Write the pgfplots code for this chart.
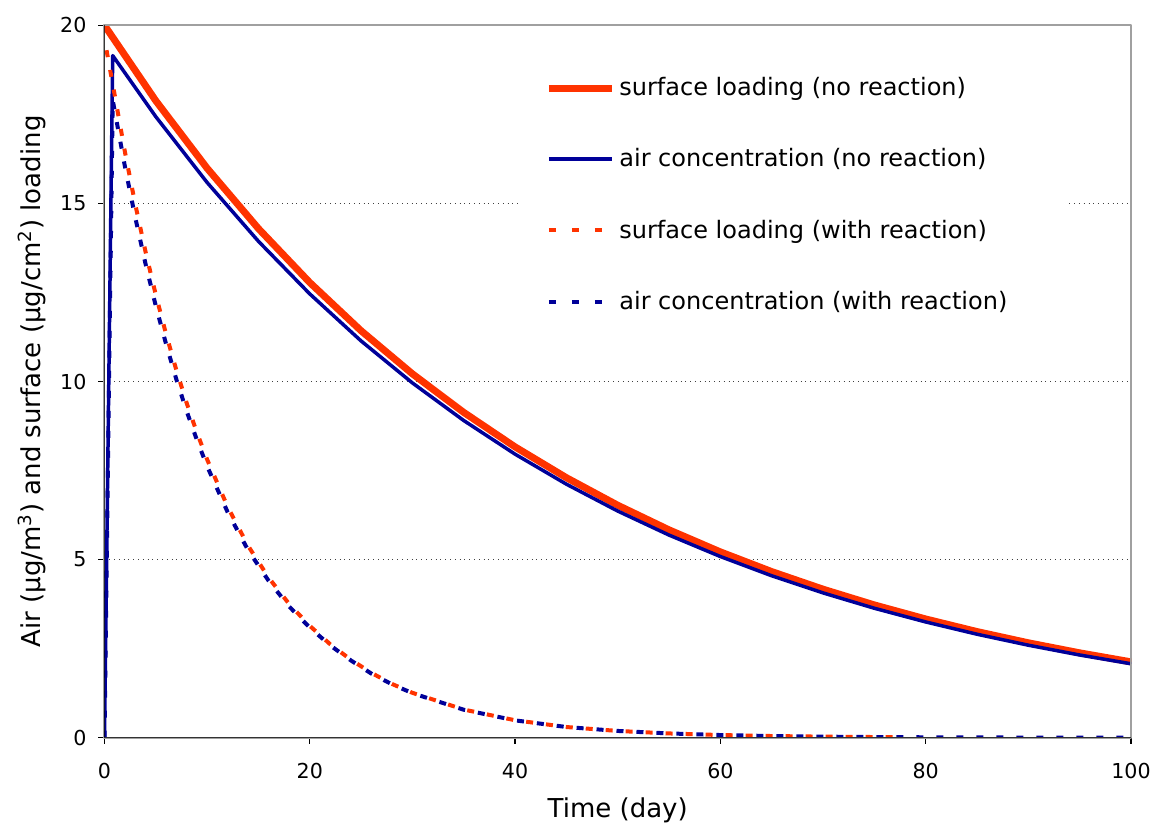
\documentclass[border=0pt]{standalone}
\usepackage{fontspec}
\setmainfont{DejaVu Sans}
\usepackage{pgfplots}
\pgfplotsset{compat=1.18}
\definecolor{cred}{RGB}{255,51,0}
\definecolor{cblue}{RGB}{0,0,153}
\definecolor{framegray}{RGB}{160,160,160}
\begin{document}
\begin{tikzpicture}
\useasboundingbox (-52.25pt,-44.65pt) rectangle (523.75pt,368.85pt);
\begin{axis}[
  at={(0,0)}, anchor=south west,
  scale only axis, width=513.25pt, height=356.2pt,
  xmin=0, xmax=100, ymin=0, ymax=20,
  xtick={0,20,...,100}, ytick={0,5,...,20},
  tick align=outside, major tick length=3pt,
  xtick pos=left, ytick pos=left,
  major tick style={black, line width=0.7pt},
  axis line style={framegray, line width=1pt},
  ymajorgrids, grid style={dotted, black!75, line width=0.6pt},
  /pgf/number format/assume math mode=true,
  tick label style={font=\fontsize{10.3}{12}\selectfont},
  xticklabel style={yshift=-6pt},
  yticklabel style={xshift=-2.5pt},
  label style={font=\fontsize{13}{15}\selectfont},
  xlabel={Time (day)},
  ylabel={Air (µg/m\textsuperscript{3}) and surface (µg/cm\textsuperscript{2}) loading},
  xlabel style={at={(axis description cs:0.5,-0.1015)}, anchor=center},
  ylabel style={at={(axis description cs:-0.0706,0.5)}, anchor=center},
  legend cell align=left,
  legend image code/.code={\draw[#1] (0pt,0pt) -- (31.5pt,0pt);},
  legend style={at={(axis description cs:0.4028,0.9499)}, anchor=north west,
    draw=none, fill=white, font=\fontsize{12}{14}\selectfont,
    row sep=21pt, inner xsep=13.5pt, inner ysep=6pt},
  line join=round,
]
\addplot[cred, line width=3.5pt] coordinates {
(0,20)(5,17.881)(10,15.986)(15,14.292)(20,12.778)(25,11.424)(30,10.214)(35,9.132)(40,8.164)(45,7.299)(50,6.526)(55,5.834)(60,5.216)(65,4.663)(70,4.169)(75,3.727)(80,3.333)(85,2.979)(90,2.664)(95,2.382)(100,2.129)};
\addlegendentry{surface loading (no reaction)}
\addplot[cblue, line width=1.75pt] coordinates {
(0,0)(0.8,19.15)(5,17.434)(10,15.586)(15,13.935)(20,12.459)(25,11.138)(30,9.959)(35,8.904)(40,7.960)(45,7.117)(50,6.363)(55,5.688)(60,5.086)(65,4.546)(70,4.065)(75,3.634)(80,3.250)(85,2.905)(90,2.597)(95,2.322)(100,2.076)};
\addlegendentry{air concentration (no reaction)}
\addplot[cred, line width=2pt, dash pattern=on 3.5pt off 6.5pt, legend image post style={dash pattern=on 3.5pt off 8pt}] coordinates {
(0.2,19.3)(1,18.03)(2,16.43)(3,14.97)(4,13.64)(5,12.43)(6,11.33)(7,10.32)(8,9.40)(9,8.57)(10,7.81)(12,6.48)(14,5.38)(16,4.49)(18,3.75)(20,3.14)(22,2.62)(24,2.19)(26,1.82)(28,1.51)(30,1.26)(35,0.79)(40,0.49)(45,0.30)(50,0.19)(55,0.12)(60,0.075)(65,0.047)(70,0.03)(75,0.019)(78,0.013)};
\addlegendentry{surface loading (with reaction)}
\addplot[cblue, line width=2pt, dash pattern=on 3.5pt off 6.5pt, legend image post style={dash pattern=on 3.5pt off 8pt}] coordinates {
(0,0)(0.8,17.9)(2,16.02)(3,14.60)(4,13.30)(5,12.12)(6,11.05)(7,10.06)(8,9.17)(9,8.36)(10,7.62)(12,6.33)(14,5.26)(16,4.40)(18,3.68)(20,3.09)(22,2.59)(24,2.17)(26,1.80)(28,1.50)(30,1.25)(35,0.785)(40,0.487)(45,0.30)(50,0.19)(55,0.12)(60,0.075)(65,0.047)(70,0.03)(75,0.019)(80,0.012)(85,0.008)(90,0.005)(95,0.003)(100,0.002)};
\addlegendentry{air concentration (with reaction)\hspace*{15pt}}
\draw[framegray, line width=1pt] (rel axis cs:0,1) -- (rel axis cs:1,1) -- (rel axis cs:1,0);
\draw[black, line width=1pt] (rel axis cs:0,1) -- (rel axis cs:0,0);
\draw[black!80, line width=1pt] (rel axis cs:0,0) -- (rel axis cs:1,0);
\end{axis}
\end{tikzpicture}
\end{document}
